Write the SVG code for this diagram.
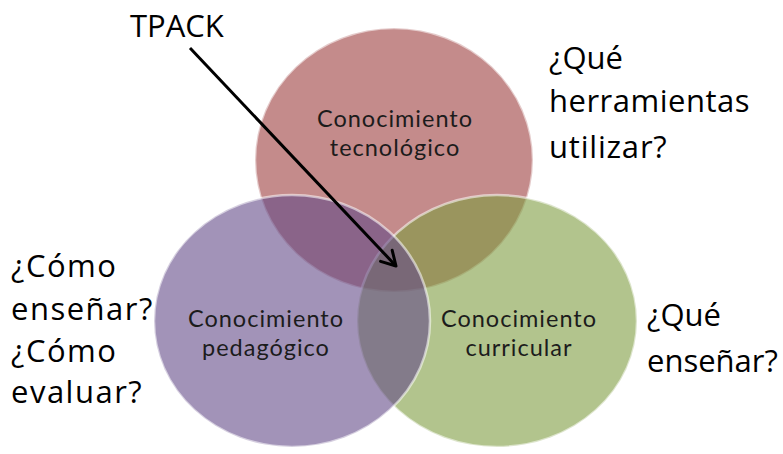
<svg xmlns="http://www.w3.org/2000/svg" width="783" height="454" viewBox="0 0 783 454">
<style>
.c{fill-opacity:0.6;stroke:#ffffff;stroke-opacity:0.55;stroke-width:2.5}
.lbl{font-family:Lato,"Open Sans","DejaVu Sans",sans-serif;font-size:23.5px;letter-spacing:1px;fill:#1c1c1c;text-anchor:middle}
.q{font-family:"Open Sans","DejaVu Sans",sans-serif;font-size:31px;fill:#000000}
</style>
<defs>
<marker id="ah" viewBox="0 0 20 20" refX="17" refY="10" markerWidth="20" markerHeight="20" markerUnits="userSpaceOnUse" orient="auto">
<polyline points="3,2 17,10 3,18" fill="none" stroke="#000" stroke-width="3" stroke-linecap="round" stroke-linejoin="round"/>
</marker>
</defs>
<rect width="783" height="454" fill="#ffffff"/>
<g id="tecnologico">
<ellipse class="c" cx="394" cy="160" rx="139" ry="132" fill="#9d3e3e"/>
<text class="lbl" x="395" y="127">Conocimiento</text>
<text class="lbl" x="395" y="156">tecnológico</text>
</g>
<g id="curricular">
<ellipse class="c" cx="497" cy="321" rx="140" ry="126" fill="#7f9d41"/>
<text class="lbl" x="519" y="327">Conocimiento</text>
<text class="lbl" x="519" y="356">curricular</text>
</g>
<g id="pedagogico">
<ellipse class="c" cx="292" cy="321" rx="138" ry="126" fill="#644b89"/>
<text class="lbl" x="266" y="327">Conocimiento</text>
<text class="lbl" x="266" y="356">pedagógico</text>
</g>
<g id="tpack">
<text class="q" x="130" y="37">TPACK</text>
</g>
<g id="connectors">
<line x1="190" y1="48" x2="396" y2="266" stroke="#000" stroke-width="3" marker-end="url(#ah)"/>
</g>
<g id="pregunta-tecnologia">
<text class="q" x="549" y="69">¿Qué</text>
<text class="q" x="549" y="112" letter-spacing="0.5">herramientas</text>
<text class="q" x="549" y="158" letter-spacing="0.8">utilizar?</text>
</g>
<g id="pregunta-pedagogia">
<text class="q" x="11" y="277" letter-spacing="1.5">¿Cómo</text>
<text class="q" x="11" y="320" letter-spacing="1.5">enseñar?</text>
<text class="q" x="11" y="362" letter-spacing="1.5">¿Cómo</text>
<text class="q" x="11" y="403" letter-spacing="1.5">evaluar?</text>
</g>
<g id="pregunta-curriculo">
<text class="q" x="647" y="326">¿Qué</text>
<text class="q" x="647" y="372">enseñar?</text>
</g>
</svg>
